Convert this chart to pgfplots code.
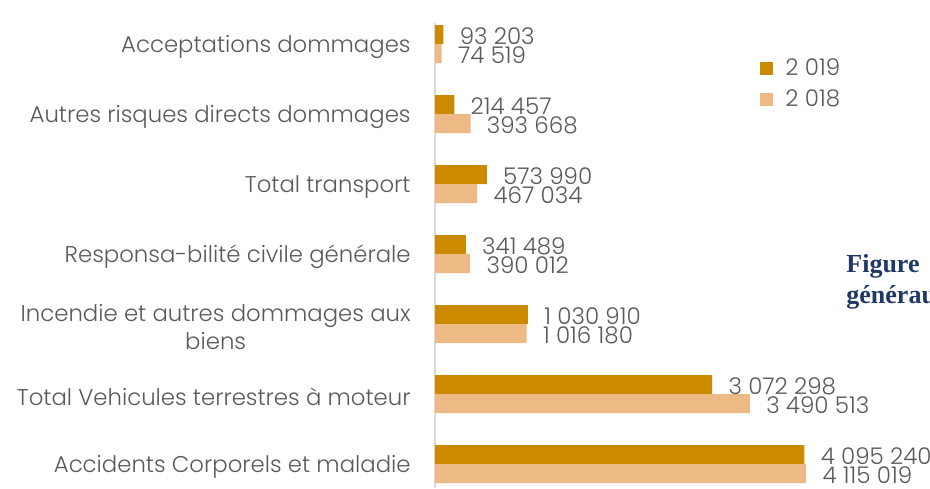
\documentclass[border=0pt]{standalone}
\usepackage{fontspec}
\setmainfont{Poppins}[UprightFont=* Light]
\newfontfamily\capfont{Liberation Serif}
\usepackage{pgfplots}
\pgfplotsset{compat=1.18}

\definecolor{bar19}{HTML}{CC8A00}
\definecolor{bar18}{HTML}{EDB985}
\definecolor{txt}{HTML}{595959}
\definecolor{navy}{HTML}{1F3864}
\definecolor{axisgray}{HTML}{D9D9D9}

\begin{document}
\begin{tikzpicture}
\begin{axis}[
  at={(217.5pt,0pt)}, anchor=south west,
  scale only axis, width=247.5pt, height=232.5pt,
  xbar, bar width=9.5pt,
  xmin=0, xmax=5487800,
  ymin=-0.34, ymax=6.3,
  axis x line=none,
  axis y line*=left,
  y axis line style={draw=axisgray, line width=1pt, -},
  ytick={0,1,2,3,4,5,6},
  yticklabels={
    Accidents Corporels et maladie,
    Total Vehicules terrestres à moteur,
    {Incendie et autres dommages aux\\biens},
    Responsa-bilité civile générale,
    Total transport,
    Autres risques directs dommages,
    Acceptations dommages},
  major tick length=0pt,
  yticklabel style={font=\fontsize{11.4}{14}\selectfont, text=txt,
    align=center, inner sep=0pt, xshift=-12pt, yshift=-1.5pt},
  nodes near coords, point meta=explicit symbolic,
  every node near coord/.append style={font=\fontsize{11.5}{13}\selectfont,
    text=txt, anchor=west, inner sep=0pt, xshift=8pt, yshift=-0.8pt},
  legend style={at={(0.6566,0.9330)}, anchor=north west, draw=none, fill=none,
    font=\fontsize{11.5}{13}\selectfont, text=txt, inner sep=0pt,
    row sep=1.5pt, cells={anchor=west}},
  legend image code/.code={\fill[#1] (0pt,-3.25pt) rectangle (6.5pt,3.25pt);},
]
% 2019
\addplot[fill=bar19, draw=none, bar shift=4.75pt] coordinates {
  (4095240,0) [4 095 240]
  (3072298,1) [3 072 298]
  (1030910,2) [1 030 910]
  (341489,3)  [341 489]
  (573990,4)  [573 990]
  (214457,5)  [214 457]
  (93203,6)   [93 203]
};
% 2018
\addplot[fill=bar18, draw=none, bar shift=-4.75pt] coordinates {
  (4115019,0) [4 115 019]
  (3490513,1) [3 490 513]
  (1016180,2) [1 016 180]
  (390012,3)  [390 012]
  (467034,4)  [467 034]
  (393668,5)  [393 668]
  (74519,6)   [74 519]
};
\legend{\hspace{4pt}2 019, \hspace{4pt}2 018}
\end{axis}
\node[anchor=base west, inner sep=0pt, text=navy,
  font=\capfont\bfseries\fontsize{13}{15}\selectfont] at (423pt,107.6pt) {Figure};
\node[anchor=base west, inner sep=0pt, text=navy,
  font=\capfont\bfseries\fontsize{13}{15}\selectfont] at (423pt,92.3pt) {généraux};
\pgfresetboundingbox
\path[use as bounding box] (0pt,0pt) rectangle (465pt,244pt);
\end{tikzpicture}
\end{document}
